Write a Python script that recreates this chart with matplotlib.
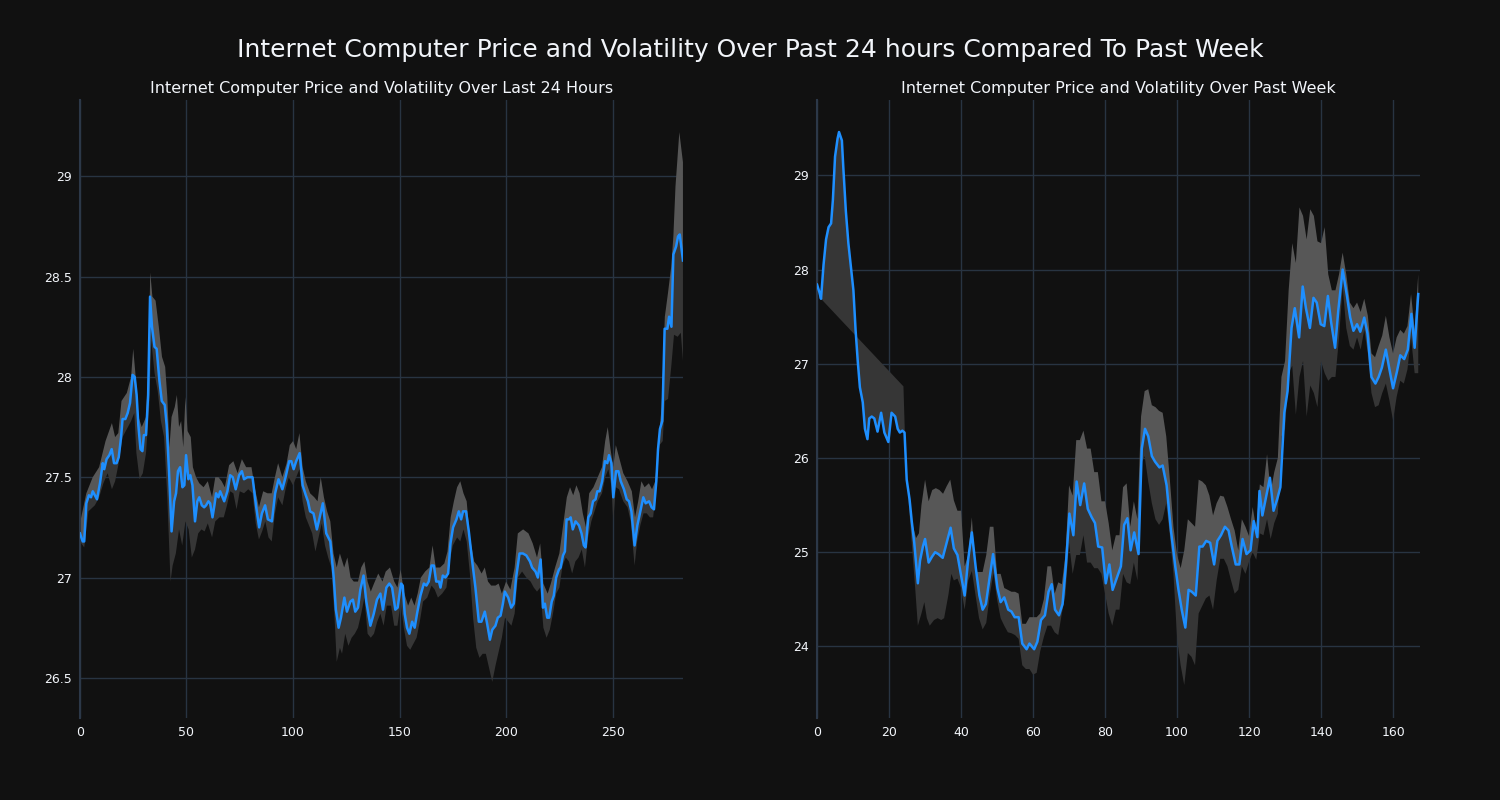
#!/usr/bin/env python3
# Internet Computer price + volatility band: last 24 hours vs past week.

import matplotlib
matplotlib.use("Agg")
import matplotlib.pyplot as plt
import numpy as np
from matplotlib.ticker import FuncFormatter

# ---- data --------------------------------------------------------------
# last 24 hours (5-min steps)
day_x = [0, 1.3, 2, 3, 4.2, 5.2, 6, 7, 8, 9.4, 10.7, 11.4, 12.5, 13.8, 14.9, 16, 17.2, 18.2,
         19.3, 20, 21.3, 22.4, 23.5, 24.7, 25.7, 26.6, 27.4, 28.4, 29.3, 30, 31, 32, 32.9,
         33.8, 35, 36, 37.3, 38.4, 39.8, 40.7, 41.8, 43, 44.2, 45.1, 46, 47, 48.1, 49, 49.8,
         50.9, 51.8, 52.8, 54, 55.1, 56, 57.2, 58.3, 59.2, 60.3, 61.1, 62.2, 63.1, 63.9, 65,
         65.8, 67.7, 69.2, 70.5, 71.7, 73.1, 74.7, 76, 77, 78.6, 79.9, 81, 82.6, 84.1, 85.4,
         86.9, 88.2, 90.1, 91.6, 93.2, 95, 96.5, 98.2, 99.2, 100.3, 101.5, 103.1, 104.5, 106,
         107, 108, 109.6, 111.2, 112.3, 114, 115.6, 117.5, 119.1, 120.1, 121.4, 122.5, 124.1,
         125.3, 126.9, 128.1, 129.2, 130.5, 131.6, 133.1, 134.4, 136.3, 137.9, 139.4, 141,
         142.2, 143.8, 145.2, 146.5, 148, 149.1, 150.7, 151.5, 152.4, 153.5, 154.6, 155.9,
         157.1, 158.2, 159.8, 161.4, 162.6, 163.7, 165, 166.1, 167.2, 168.5, 169.2, 170.3,
         171.5, 172.8, 173.9, 175.1, 176.7, 177.8, 178.9, 179.8, 181.2, 182.5, 184, 185.6,
         187.2, 188.4, 190, 191.1, 192.4, 193.5, 195, 196.1, 197.4, 198.5, 199.4, 201, 202.4,
         203.6, 204.7, 206.3, 207.9, 209.5, 211.2, 212.2, 213.8, 214.9, 216.2, 217.3, 218.2,
         219.3, 220.2, 221.4, 222.4, 223.5, 224.8, 225.6, 226.7, 227.6, 228.4, 229.5, 230.3,
         231.3, 232.6, 234.2, 235.4, 236.5, 237.3, 238.6, 239.7, 240.8, 242, 242.8, 243.9,
         245.1, 246.4, 247.5, 248.3, 249.4, 250.3, 251.6, 252.7, 253.8, 255.3, 256.6, 257.7,
         258.8, 260.3, 261.6, 262.8, 264.4, 265.5, 267.1, 268.3, 269.4, 270.5, 271.3, 272.2,
         273.3, 274.4, 275.7, 276.5, 277.6, 278.5, 279.8, 280.7, 281.5, 283]
day_price = [27.22, 27.18, 27.18, 27.37, 27.41, 27.40, 27.43, 27.41, 27.39, 27.47, 27.57, 27.54,
             27.59, 27.61, 27.64, 27.57, 27.57, 27.60, 27.70, 27.79, 27.79, 27.82, 27.87, 28.01,
             28.00, 27.91, 27.76, 27.64, 27.63, 27.71, 27.71, 27.91, 28.40, 28.25, 28.15, 28.14,
             27.98, 27.88, 27.86, 27.76, 27.53, 27.23, 27.38, 27.42, 27.53, 27.55, 27.45, 27.46,
             27.61, 27.49, 27.51, 27.46, 27.28, 27.38, 27.40, 27.36, 27.35, 27.36, 27.38, 27.37,
             27.30, 27.36, 27.42, 27.40, 27.43, 27.38, 27.43, 27.51, 27.50, 27.44, 27.51, 27.53,
             27.49, 27.50, 27.50, 27.50, 27.36, 27.25, 27.32, 27.36, 27.29, 27.28, 27.42, 27.49,
             27.44, 27.50, 27.58, 27.58, 27.54, 27.58, 27.62, 27.46, 27.41, 27.38, 27.33, 27.32,
             27.24, 27.29, 27.37, 27.22, 27.18, 27.00, 26.84, 26.75, 26.80, 26.90, 26.83, 26.88,
             26.89, 26.83, 26.85, 26.94, 27.01, 26.88, 26.76, 26.82, 26.89, 26.92, 26.84, 26.95,
             26.97, 26.95, 26.84, 26.85, 26.97, 26.96, 26.82, 26.75, 26.72, 26.78, 26.75, 26.82,
             26.91, 26.97, 26.96, 26.98, 27.06, 27.06, 26.98, 26.98, 26.95, 27.01, 27.00, 27.02,
             27.17, 27.25, 27.29, 27.33, 27.29, 27.33, 27.33, 27.23, 27.09, 26.95, 26.78, 26.78,
             26.83, 26.77, 26.69, 26.74, 26.76, 26.80, 26.81, 26.87, 26.93, 26.90, 26.85, 26.87,
             27.00, 27.12, 27.12, 27.11, 27.08, 27.05, 27.03, 27.00, 27.09, 26.85, 26.87, 26.80,
             26.80, 26.88, 26.91, 27.00, 27.04, 27.05, 27.11, 27.13, 27.29, 27.29, 27.30, 27.24,
             27.28, 27.26, 27.22, 27.16, 27.15, 27.30, 27.32, 27.38, 27.39, 27.43, 27.43, 27.48,
             27.58, 27.57, 27.61, 27.57, 27.40, 27.53, 27.53, 27.48, 27.44, 27.39, 27.38, 27.33,
             27.16, 27.26, 27.32, 27.40, 27.37, 27.38, 27.35, 27.34, 27.48, 27.64, 27.74, 27.78,
             28.24, 28.24, 28.30, 28.25, 28.61, 28.65, 28.70, 28.71, 28.58]

day_hi_x = [0, 3, 6, 9, 12, 15, 16.5, 18, 19.5, 22, 24, 25, 26, 27.5, 29, 31, 32, 33, 34, 35.5,
            37, 38.5, 40, 41, 42, 43, 44.5, 45.5, 46.5, 47.5, 48.5, 49.5, 50.5, 52, 53, 54.5,
            56, 58, 60, 62, 63.5, 65, 66.5, 68, 70, 72, 74, 76, 78, 80.5, 82, 84, 86, 88, 90,
            91.5, 93, 95, 97, 98.5, 100, 101.5, 103, 104.5, 106, 108, 110, 111.5, 113, 114.5,
            116, 117.5, 119, 120.5, 122, 124, 125.5, 127, 128.5, 130.5, 132, 133.5, 135, 136.5,
            138, 140, 142, 143.5, 145.5, 147.5, 149, 150.5, 152, 154, 155.5, 157, 158.5, 160,
            162, 164, 165.5, 167, 169, 171, 172.5, 174, 175.5, 177, 178.5, 180, 181.5, 183, 185,
            186.5, 188.5, 190, 191.5, 193, 195, 196.5, 198, 200, 202, 204, 205.5, 208, 210.5,
            212.5, 214.5, 216, 217.5, 219.5, 221, 223, 225, 227, 228.5, 230, 231.5, 233, 234.5,
            236, 237.5, 239, 241, 243, 245, 246.5, 247.7, 249, 250.3, 251.5, 253, 255, 257, 259,
            260.5, 262, 263.5, 265, 267, 268.5, 270, 271.5, 273, 274.5, 276, 277.5, 278.5,
            279.5, 281.3, 283]
day_hi = [27.27, 27.42, 27.50, 27.55, 27.68, 27.77, 27.70, 27.72, 27.88, 27.92, 28.00, 28.14,
          28.02, 27.80, 27.75, 27.80, 28.00, 28.52, 28.40, 28.38, 28.25, 28.10, 28.05, 27.90,
          27.65, 27.80, 27.85, 27.91, 27.75, 27.78, 27.65, 27.90, 27.73, 27.70, 27.55, 27.50,
          27.47, 27.45, 27.48, 27.40, 27.50, 27.50, 27.48, 27.45, 27.56, 27.58, 27.52, 27.59,
          27.55, 27.55, 27.45, 27.35, 27.43, 27.42, 27.42, 27.50, 27.57, 27.50, 27.57, 27.66,
          27.68, 27.64, 27.72, 27.55, 27.48, 27.42, 27.40, 27.38, 27.50, 27.40, 27.33, 27.28,
          27.12, 27.05, 27.12, 27.05, 27.10, 27.00, 26.98, 26.98, 27.05, 27.08, 26.98, 26.93,
          26.97, 27.02, 26.98, 27.03, 27.05, 26.98, 26.95, 27.04, 26.93, 26.86, 26.90, 26.86,
          26.92, 27.00, 27.03, 27.05, 27.16, 27.05, 27.05, 27.07, 27.13, 27.30, 27.38, 27.45,
          27.48, 27.42, 27.38, 27.20, 27.08, 27.06, 27.02, 27.05, 26.98, 26.96, 26.96, 26.97,
          26.92, 26.98, 26.94, 27.05, 27.22, 27.24, 27.22, 27.17, 27.10, 27.17, 26.97, 26.92,
          26.97, 27.05, 27.12, 27.28, 27.40, 27.45, 27.41, 27.46, 27.42, 27.32, 27.25, 27.42,
          27.45, 27.50, 27.55, 27.68, 27.75, 27.64, 27.55, 27.66, 27.60, 27.52, 27.48, 27.43,
          27.30, 27.38, 27.48, 27.45, 27.47, 27.44, 27.48, 27.68, 27.85, 28.30, 28.42, 28.55,
          28.70, 28.95, 29.22, 29.07]

day_lo_x = [0, 2, 4, 7, 9, 11, 13, 15, 16.5, 18, 20, 22, 24, 25.5, 26.5, 28, 29.5, 31, 32.5,
            33.5, 35, 36.5, 38, 39.5, 41, 42.5, 43.5, 45, 46.5, 48, 49.5, 51, 52.5, 54, 55.5,
            57, 58.5, 60, 62, 63.5, 65.5, 67.5, 69, 70.5, 72, 73.5, 75, 77, 79, 81, 82.5, 84,
            85.5, 87, 88.5, 90, 91.5, 93, 95, 96.5, 98, 100, 101.5, 103, 104.5, 106, 107.5, 109,
            110.5, 112, 113.5, 115, 116.5, 118, 119.5, 120.5, 122, 123, 124.5, 126, 127.5, 129,
            130.5, 132, 133.5, 135, 136.5, 138, 139.5, 141, 142.5, 144, 146, 147.5, 149, 150.5,
            152, 153.5, 155, 156.5, 158, 159.5, 161, 163, 165, 166.5, 168, 170, 172, 173.5, 175,
            177, 178.5, 180, 181.5, 183, 184.5, 186, 187.5, 189, 190.5, 192, 193.5, 195, 196.5,
            198, 199.5, 201, 202.5, 204, 205.5, 207.5, 209.5, 211.5, 213, 214.5, 216, 217.5, 219,
            220.5, 222, 223.5, 225, 226.5, 228, 229.5, 231, 232.5, 234, 235.5, 237, 238.5, 240,
            241.5, 243, 245, 246.5, 248, 249.5, 250.3, 251.5, 253, 255, 257, 258.5, 260.3,
            261.5, 263, 264.5, 266, 267.5, 269, 270.5, 272, 273.5, 274.5, 276, 277.5, 278.8,
            280.5, 282, 283]
day_lo = [27.18, 27.15, 27.33, 27.36, 27.40, 27.47, 27.52, 27.44, 27.48, 27.56, 27.70, 27.74,
          27.78, 27.82, 27.62, 27.49, 27.52, 27.62, 27.85, 28.18, 28.02, 27.93, 27.78, 27.70,
          27.40, 26.98, 27.06, 27.12, 27.24, 27.16, 27.28, 27.24, 27.10, 27.14, 27.22, 27.24,
          27.23, 27.27, 27.20, 27.28, 27.30, 27.30, 27.36, 27.43, 27.42, 27.34, 27.43, 27.42,
          27.44, 27.42, 27.27, 27.19, 27.23, 27.28, 27.20, 27.18, 27.32, 27.40, 27.36, 27.44,
          27.50, 27.46, 27.50, 27.54, 27.38, 27.30, 27.26, 27.22, 27.13, 27.20, 27.27, 27.16,
          27.10, 27.05, 26.80, 26.58, 26.65, 26.62, 26.72, 26.66, 26.70, 26.72, 26.75, 26.82,
          26.90, 26.72, 26.70, 26.72, 26.78, 26.82, 26.76, 26.86, 26.86, 26.76, 26.76, 26.87,
          26.75, 26.66, 26.64, 26.67, 26.70, 26.78, 26.88, 26.90, 26.96, 26.94, 26.90, 26.92,
          26.95, 27.08, 27.16, 27.20, 27.18, 27.24, 27.18, 27.02, 26.80, 26.65, 26.60, 26.62,
          26.62, 26.55, 26.48, 26.56, 26.63, 26.70, 26.80, 26.78, 26.76, 26.82, 27.00, 27.03,
          27.00, 26.98, 26.95, 26.93, 26.95, 26.75, 26.70, 26.74, 26.82, 26.92, 26.95, 27.06,
          27.10, 27.08, 27.02, 27.08, 27.10, 27.14, 27.05, 27.20, 27.28, 27.33, 27.38, 27.42,
          27.50, 27.54, 27.45, 27.28, 27.45, 27.44, 27.38, 27.35, 27.28, 27.06, 27.18, 27.26,
          27.32, 27.32, 27.30, 27.30, 27.44, 27.66, 27.68, 27.88, 27.89, 28.05, 28.21, 28.20,
          28.22, 28.08]

# past week (hourly steps)
week_x = [0, 0.65, 1.1, 1.8, 2.5, 3.2, 3.9, 4.4, 5, 5.7, 6.1, 6.9, 7.3, 8, 8.7, 9.4, 10.1, 10.7,
          11.3, 11.9, 12.7, 13.3, 14, 14.5, 15.2, 15.9, 16.8, 17.8, 18.7, 19.8, 20.7, 21.7,
          22.4, 23, 23.7, 24.3, 24.9, 25.7, 26.3, 27, 28, 28.6, 29.4, 30, 31, 31.9, 32.8, 33.7,
          34.9, 36, 37.1, 38, 39, 39.7, 41, 42, 43, 44.1, 45.1, 46, 46.9, 47.9, 48.9, 50.1, 51,
          52, 53.1, 54, 54.9, 56, 57, 58.2, 59, 60.3, 61.2, 62.2, 63.3, 64.3, 65.2, 66.1, 67.2,
          68.2, 69.1, 70.1, 71.2, 72.1, 73.1, 74.2, 75.2, 76.3, 77.2, 78.1, 79.2, 80.2, 81.2,
          82.1, 83.2, 84.4, 85.3, 86.2, 87.1, 88.1, 89.3, 90.2, 91.1, 92, 93, 93.9, 95.1, 96,
          97.1, 98.3, 99.5, 100.4, 101.3, 102.3, 103.2, 104.1, 105.2, 106.2, 107.1, 108.1,
          109.2, 110.3, 111.2, 112.2, 113.3, 114.3, 115.2, 116.3, 117.3, 118.2, 119.3, 120.4,
          121.3, 122.3, 122.9, 123.7, 124.8, 125.8, 126.8, 127.8, 128.7, 129.8, 130.7, 131.8,
          132.7, 133.9, 134.9, 135.8, 136.9, 137.9, 138.8, 139.9, 140.9, 141.9, 142.8, 143.9,
          144.8, 146, 147.2, 148.1, 149, 150, 150.9, 152, 152.9, 154, 155.1, 156, 156.9, 158,
          159, 160, 161.1, 162, 163.1, 164.1, 165.1, 166, 167]
week_price = [27.84, 27.76, 27.69, 28.05, 28.32, 28.45, 28.49, 28.74, 29.20, 29.39, 29.46, 29.37,
              29.08, 28.62, 28.28, 28.03, 27.78, 27.36, 27.03, 26.75, 26.59, 26.31, 26.20, 26.42,
              26.44, 26.42, 26.28, 26.48, 26.27, 26.17, 26.48, 26.44, 26.31, 26.27, 26.29, 26.27,
              25.77, 25.56, 25.33, 25.10, 24.67, 24.91, 25.06, 25.14, 24.89, 24.95, 25.00, 24.98,
              24.94, 25.10, 25.26, 25.04, 24.97, 24.82, 24.54, 24.93, 25.21, 24.83, 24.54, 24.39,
              24.45, 24.72, 24.98, 24.62, 24.47, 24.52, 24.39, 24.37, 24.31, 24.31, 24.03, 23.97,
              24.03, 23.97, 24.05, 24.28, 24.33, 24.58, 24.66, 24.39, 24.33, 24.45, 24.85, 25.41,
              25.18, 25.75, 25.50, 25.73, 25.46, 25.37, 25.31, 25.06, 25.05, 24.67, 24.87, 24.60,
              24.72, 24.85, 25.29, 25.36, 25.02, 25.21, 24.98, 26.10, 26.31, 26.23, 26.02, 25.96,
              25.90, 25.92, 25.71, 25.23, 24.85, 24.60, 24.39, 24.20, 24.60, 24.58, 24.54, 25.06,
              25.06, 25.12, 25.10, 24.87, 25.12, 25.18, 25.27, 25.23, 25.06, 24.87, 24.87, 25.14,
              24.98, 25.02, 25.33, 25.16, 25.65, 25.39, 25.60, 25.79, 25.44, 25.56, 25.69, 26.48,
              26.71, 27.38, 27.59, 27.28, 27.82, 27.59, 27.38, 27.70, 27.65, 27.42, 27.40, 27.72,
              27.44, 27.17, 27.57, 28.00, 27.72, 27.49, 27.35, 27.42, 27.34, 27.49, 27.32, 26.86,
              26.79, 26.86, 26.96, 27.15, 26.94, 26.74, 26.92, 27.09, 27.05, 27.15, 27.53, 27.17,
              27.74]

week_hi_x = [26.3, 27.5, 28.3, 29, 30, 31, 32, 33, 34, 35, 36, 37, 38, 39, 40, 41, 42, 43, 44,
             45, 46, 47, 48, 49, 50, 51, 52, 53, 54, 55, 56, 57, 58, 59, 60, 61, 62, 63, 64, 65,
             66, 67, 68, 69, 70, 71, 72, 73, 74, 75, 76, 77, 78, 79, 80, 81, 82, 83, 84, 85, 86,
             87, 88, 89, 90, 91, 92, 93, 94, 95, 96, 97, 98, 99, 100, 101, 102, 103, 104, 105,
             106, 107, 108, 109, 110, 111, 112, 113, 114, 115, 116, 117, 118, 119, 120, 121, 122,
             123, 124, 125, 126, 127, 128, 129, 130, 131, 132, 133, 134, 135, 136, 137, 138, 139,
             140, 141, 142, 143, 144, 145, 146, 147, 148, 149, 150, 151, 152, 153, 154, 155, 156,
             157, 158, 159, 160, 161, 162, 163, 164, 165, 166, 167]
week_hi = [25.33, 25.15, 25.20, 25.50, 25.77, 25.54, 25.66, 25.68, 25.66, 25.62, 25.70, 25.77,
           25.55, 25.44, 25.44, 24.85, 24.97, 25.37, 24.79, 24.79, 24.79, 24.97, 25.27, 25.27,
           24.77, 24.77, 24.62, 24.60, 24.58, 24.58, 24.56, 24.24, 24.24, 24.31, 24.31, 24.31,
           24.35, 24.50, 24.85, 24.85, 24.56, 24.68, 24.66, 24.97, 25.71, 25.60, 26.19, 26.19,
           26.29, 26.10, 26.10, 25.85, 25.85, 25.54, 25.54, 25.31, 25.02, 25.18, 25.18, 25.69,
           25.73, 25.27, 25.54, 25.35, 26.44, 26.71, 26.73, 26.56, 26.54, 26.50, 26.48, 26.23,
           25.77, 25.27, 24.97, 24.83, 25.02, 25.35, 25.31, 25.27, 25.77, 25.75, 25.71, 25.60,
           25.39, 25.52, 25.60, 25.59, 25.48, 25.35, 25.23, 25.02, 25.35, 25.27, 25.17, 25.48,
           25.25, 25.72, 25.69, 26.04, 25.64, 25.85, 26.00, 26.86, 27.03, 27.78, 28.28, 28.07,
           28.66, 28.57, 28.32, 28.64, 28.57, 28.30, 28.28, 28.45, 27.95, 27.78, 27.78, 27.95,
           28.18, 27.95, 27.65, 27.59, 27.65, 27.55, 27.69, 27.51, 27.11, 27.07, 27.19, 27.30,
           27.51, 27.28, 27.11, 27.28, 27.36, 27.32, 27.40, 27.74, 27.36, 27.95]

week_lo_x = [1.1, 24, 24.6, 25.5, 26.5, 27.3, 28, 29, 29.8, 30.5, 31.3, 32.5, 33.5, 34.5, 35.3,
             36.5, 37.3, 38, 39, 40, 41, 42, 43, 44, 45, 46, 47, 48, 49, 50, 51, 52, 53, 54, 55,
             56, 57, 58, 59, 60, 61, 62, 63, 64, 65, 66, 67, 68, 69, 70, 71, 72, 73, 74, 75, 76,
             77, 78, 79, 80, 81, 82, 83, 84, 85, 86, 87, 88, 89, 90, 91, 92, 93, 94, 95, 96, 97,
             98, 99, 100, 101, 102, 103, 104, 105, 106, 107, 108, 109, 110, 111, 112, 113, 114,
             115, 116, 117, 118, 119, 120, 121, 122, 123, 124, 125, 126, 127, 128, 129, 130, 131,
             132, 133, 134, 135, 136, 137, 138, 139, 140, 141, 142, 143, 144, 145, 146, 147, 148,
             149, 150, 151, 152, 153, 154, 155, 156, 157, 158, 159, 160, 161, 162, 163, 164, 165,
             166, 167]
week_lo = [27.69, 26.76, 26.00, 25.50, 25.00, 24.60, 24.22, 24.35, 24.47, 24.30, 24.22, 24.28,
           24.30, 24.28, 24.30, 24.55, 24.77, 24.70, 24.72, 24.62, 24.39, 24.70, 24.80, 24.55,
           24.30, 24.18, 24.25, 24.55, 24.78, 24.50, 24.30, 24.22, 24.15, 24.14, 24.12, 24.08,
           23.80, 23.76, 23.76, 23.70, 23.72, 23.95, 24.10, 24.22, 24.22, 24.15, 24.12, 24.35,
           24.55, 25.10, 24.77, 24.97, 24.97, 25.18, 24.89, 24.89, 24.83, 24.83, 24.77, 24.56,
           24.35, 24.22, 24.39, 24.39, 24.77, 24.68, 24.66, 24.89, 24.70, 25.94, 26.02, 25.75,
           25.52, 25.35, 25.29, 25.35, 25.52, 25.18, 24.77, 24.10, 23.80, 23.59, 23.93, 23.89,
           23.80, 24.35, 24.43, 24.51, 24.54, 24.39, 24.70, 24.93, 24.93, 24.85, 24.70, 24.56,
           24.60, 24.85, 24.77, 24.90, 25.00, 24.92, 25.20, 25.18, 25.35, 25.14, 25.31, 25.41,
           26.23, 26.31, 26.90, 26.98, 26.46, 26.86, 27.03, 26.44, 26.77, 26.69, 26.54, 27.03,
           26.90, 26.82, 26.86, 26.86, 27.28, 27.82, 27.38, 27.19, 27.15, 27.28, 27.15, 27.36,
           27.11, 26.69, 26.54, 26.56, 26.69, 26.79, 26.61, 26.40, 26.65, 26.82, 26.79, 26.94,
           27.28, 26.90, 26.90]

day_ticks = [0, 50, 100, 150, 200, 250]
week_ticks = [0, 20, 40, 60, 80, 100, 120, 140, 160]
day_yticks = [26.5, 27, 27.5, 28, 28.5, 29]
week_yticks = [24, 25, 26, 27, 28, 29]

# ---- style -------------------------------------------------------------
BG = "#111111"
GRID = "#283442"
TEXT = "#f2f5fa"
LINE = "#1e8fff"
BAND_HI = "#575757"
BAND_LO = "#363636"

plt.rcParams.update({
    "font.family": ["DejaVu Sans"],
    "font.size": 9,
})


def band(ax, x, y, ex, ey, color):
    # polygon between the price line and one edge of the band
    x = np.asarray(x)
    y = np.asarray(y)
    ex = np.asarray(ex)
    ey = np.asarray(ey)
    m = (x >= ex[0]) & (x <= ex[-1])
    px = np.r_[x[m], ex[::-1]]
    py = np.r_[y[m], ey[::-1]]
    ax.fill(px, py, color=color, linewidth=0, zorder=2)


def panel(ax, title, x, price, hx, hi, lx, lo, xticks, yticks, xlim, ylim):
    ax.set_facecolor(BG)
    band(ax, x, price, hx, hi, BAND_HI)
    band(ax, x, price, lx, lo, BAND_LO)
    ax.plot(x, price, color=LINE, linewidth=1.8, zorder=3)
    ax.set_xlim(*xlim)
    ax.set_ylim(*ylim)
    ax.set_xticks(xticks)
    ax.set_yticks(yticks)
    ax.yaxis.set_major_formatter(FuncFormatter(lambda v, _: f"{v:g}"))
    ax.grid(True, color=GRID, linewidth=1.0, zorder=0)
    ax.set_axisbelow(True)
    ax.tick_params(colors=TEXT, length=0, labelsize=9, pad=6)
    for side in ("top", "right", "bottom"):
        ax.spines[side].set_visible(False)
    ax.spines["left"].set_color("#2c3848")
    ax.spines["left"].set_linewidth(1.5)
    ax.set_title(title, color=TEXT, fontsize=11.5, pad=5)


fig = plt.figure(figsize=(15, 8), dpi=100, facecolor=BG)
ax1 = fig.add_axes([0.0533, 0.1025, 0.402, 0.7725])
ax2 = fig.add_axes([0.5447, 0.1025, 0.402, 0.7725])

panel(ax1, "Internet Computer Price and Volatility Over Last 24 Hours",
      day_x, day_price, day_hi_x, day_hi, day_lo_x, day_lo,
      day_ticks, day_yticks, (0, 283), (26.30, 29.38))
panel(ax2, "Internet Computer Price and Volatility Over Past Week",
      week_x, week_price, week_hi_x, week_hi, week_lo_x, week_lo,
      week_ticks, week_yticks, (0, 167.5), (23.24, 29.80))

fig.suptitle("Internet Computer Price and Volatility Over Past 24 hours Compared To Past Week",
             color=TEXT, fontsize=18, y=0.9375, va="center")

fig.savefig("out.png", facecolor=BG)
